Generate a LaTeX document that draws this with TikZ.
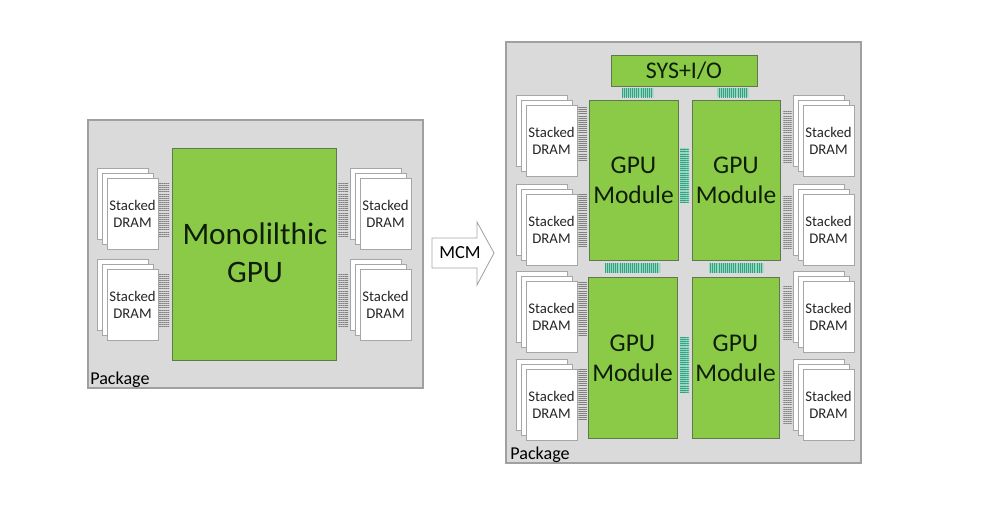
\documentclass[tikz,border=0pt]{standalone}
\usepackage{fontspec}
\setmainfont{Carlito}
\usetikzlibrary{patterns.meta}

\definecolor{chipgreen}{RGB}{139,202,70}
\definecolor{chipedge}{RGB}{95,120,80}
\definecolor{chiptext}{RGB}{15,30,8}
\definecolor{pkgfill}{RGB}{218,218,218}
\definecolor{pkgedge}{RGB}{160,160,160}
\definecolor{busteal}{RGB}{150,215,190}
\definecolor{buslines}{RGB}{50,160,130}

\tikzset{
    package/.style={fill=pkgfill, draw=pkgedge, line width=0.6pt},
    gpu/.style={fill=chipgreen, draw=chipedge, line width=0.5pt},
    chiplabel/.style={text=chiptext, align=center, font=\fontsize{14.5}{17}\selectfont},
    page/.style={fill=white, draw=gray!70, line width=0.4pt},
    pagelabel/.style={text=black!85, align=center, font=\fontsize{8.4}{9.6}\selectfont},
    busgray/.style={pattern={Lines[angle=0, distance=1.2pt, line width=0.45pt]}, pattern color=gray},
    bush/.style={fill=busteal, postaction={pattern={Lines[angle=90, distance=1.2pt, line width=0.4pt]}, pattern color=buslines}},
    busv/.style={fill=busteal, postaction={pattern={Lines[angle=0, distance=1.2pt, line width=0.4pt]}, pattern color=buslines}},
    pkglabel/.style={anchor=base west, inner sep=0pt, font=\fontsize{10.3}{12}\selectfont}
}

% stack of three DRAM dies, #1,#2 = corner of the back die, #3 = name
\newcommand{\dramstack}[3]{
    \draw[page] (#1,#2) rectangle ++(51,71);
    \draw[page] (#1+5,#2+5) rectangle ++(51,71);
    \draw[page] (#1+10,#2+10) rectangle ++(51,71);
    \node[pagelabel] (#3) at (#1+35.5,#2+45.5) {Stacked\\DRAM};
}

\begin{document}
\begin{tikzpicture}[x=0.02cm, y=-0.02cm]
    \useasboundingbox (0,0) rectangle (1000,525);

    % monolithic package
    \draw[package] (88,120) rectangle (423,388);
    \draw[gpu] (172,148) rectangle (336,360);
    \node[chiplabel, font=\fontsize{17.8}{21.5}\selectfont] (mono) at (255,253) {Monolilthic\\GPU};
    \dramstack{97}{168}{d1} \dramstack{97}{259}{d2}
    \dramstack{350}{168}{d3} \dramstack{350}{259}{d4}
    \fill[busgray] (159,182) rectangle (169,237); \fill[busgray] (159,273) rectangle (169,327);
    \fill[busgray] (338,182) rectangle (348,237); \fill[busgray] (338,273) rectangle (348,327);
    \node[pkglabel] (pkg1) at (90,384) {Package};

    % arrow
    \draw[fill=white, draw=gray!70, line width=0.5pt] (432,238) -- (477,238) -- (477,222) -- (494,253)
        -- (477,285) -- (477,268) -- (432,268) -- cycle;
    \node[font=\fontsize{10.5}{12}\selectfont] (mcm) at (460,253) {MCM};

    % MCM package
    \draw[package] (506,42) rectangle (861,463);
    \draw[gpu] (611,55) rectangle (757,86);
    \node[chiplabel, font=\fontsize{13.6}{15}\selectfont] (sys) at (684,71) {SYS+I/O};
    \draw[gpu] (589,100) rectangle (678,260); \node[chiplabel] (m1) at (633.5,180) {GPU\\Module};
    \draw[gpu] (692,100) rectangle (780,260); \node[chiplabel] (m2) at (736,180) {GPU\\Module};
    \draw[gpu] (588,277) rectangle (677,438); \node[chiplabel] (m3) at (632.5,358.5) {GPU\\Module};
    \draw[gpu] (692,277) rectangle (779,438); \node[chiplabel] (m4) at (735.5,358.5) {GPU\\Module};

    \foreach \y [count=\i] in {95,184,271,359} {
        \dramstack{516}{\y}{l\i}
        \dramstack{793}{\y}{r\i}
    }
    \foreach \y in {107,194,282,367} \fill[busgray] (578,\y) rectangle (587,\y+53);
    \foreach \y in {110,196,286,370} \fill[busgray] (783,\y) rectangle (792,\y+53);

    \fill[bush] (622,88) rectangle (653,97); \fill[bush] (717,88) rectangle (748,97);
    \fill[bush] (605,263) rectangle (660,273); \fill[bush] (709,263) rectangle (763,273);
    \fill[busv] (680,148) rectangle (689,203); \fill[busv] (680,337) rectangle (689,392);
    \node[pkglabel] (pkg2) at (510,459) {Package};
\end{tikzpicture}
\end{document}
